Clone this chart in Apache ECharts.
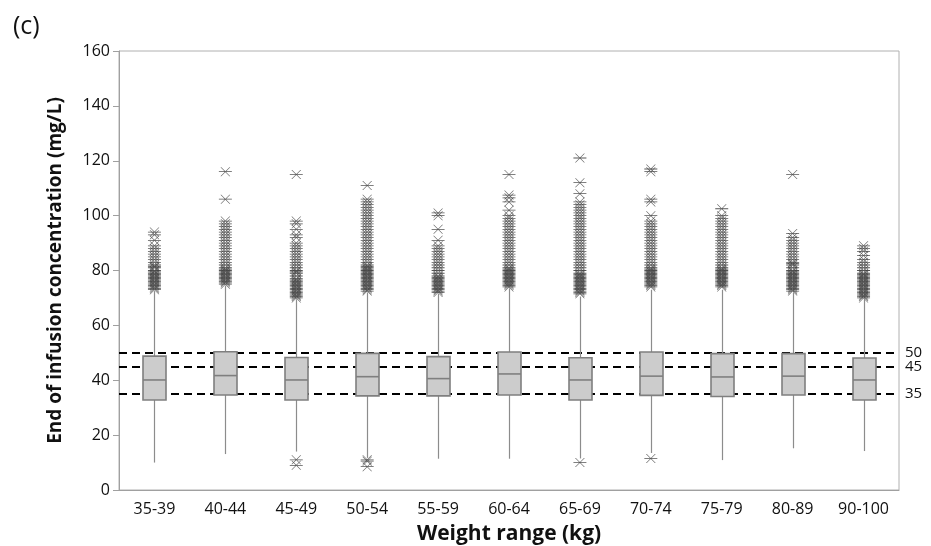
<!DOCTYPE html>
<html>
<head>
<meta charset="utf-8">
<script src="https://cdn.jsdelivr.net/npm/echarts@6/dist/echarts.min.js"></script>
<style>
  html, body { margin: 0; padding: 0; background: #fff; }
  #chart { width: 931px; height: 546px; }
</style>
</head>
<body>
<div id="chart"></div>
<script>
  // weight groups
  const categories = ['35-39', '40-44', '45-49', '50-54', '55-59', '60-64', '65-69', '70-74', '75-79', '80-89', '90-100'];

  // [low whisker, Q1, median, Q3, high whisker]
  const boxValues = [
    [10.0, 32.8, 40.1, 48.8, 72.5],
    [13.1, 34.6, 41.7, 50.4, 74.5],
    [14.0, 32.8, 40.1, 48.3, 69.5],
    [11.7, 34.3, 41.3, 49.8, 72.0],
    [11.4, 34.3, 40.6, 48.6, 71.5],
    [11.4, 34.6, 42.3, 50.3, 73.5],
    [11.5, 32.8, 40.1, 48.2, 70.5],
    [13.5, 34.5, 41.5, 50.3, 73.0],
    [10.9, 34.1, 41.2, 49.7, 73.0],
    [15.2, 34.6, 41.5, 49.7, 72.0],
    [14.2, 32.8, 40.1, 48.1, 69.5]
  ];

  // outliers per group
  const outliers = [
    [94, 93, 91, 89, 88, 87, 86, 85, 84, 83, 82, 81.5, 81, 80, 79.5, 79, 78.5, 78, 77.5, 77, 76.5, 76, 75.5, 75, 74.5, 74, 73.5, 73],
    [116, 106, 98, 97, 96, 95, 94, 93, 92, 91, 90, 89, 88, 87, 86, 85, 84, 83, 82, 81, 80.5, 80, 79.5, 79, 78.5, 78, 77.5, 77, 76.5, 76, 75.5, 75],
    [115, 98, 97, 95, 93, 92, 90, 89, 88, 87, 86, 85, 84, 83, 82, 81, 80, 79.5, 79, 78, 77, 76.5, 76, 75.5, 75, 74.5, 74, 73.5, 73, 72.5, 72, 71.5, 71, 70.5, 70, 11, 9],
    [111, 106, 105, 104, 103, 102, 101, 100, 99, 98, 97, 96, 95, 94, 93, 92, 91, 90, 89, 88, 87, 86, 85, 84, 83, 82, 81.5, 81, 80.5, 80, 79.5, 79, 78.5, 78, 77.5, 77, 76.5, 76, 75.5, 75, 74.5, 74, 73.5, 73, 72.5, 11, 10.5, 8.5],
    [101, 100, 95, 91, 89, 88, 87, 86, 85, 84, 83, 82, 81, 80, 79, 78, 77.5, 77, 76.5, 76, 75.5, 75, 74.5, 74, 73.5, 73, 72.5, 72],
    [115, 107.5, 106.5, 105, 102, 100, 99, 98, 97, 96, 95, 94, 93, 92, 91, 90, 89, 88, 87, 86, 85, 84, 83, 82, 81, 80.5, 80, 79.5, 79, 78.5, 78, 77.5, 77, 76.5, 76, 75.5, 75, 74.5, 74],
    [121, 112, 108, 105, 104, 103, 102, 101, 100, 99, 98, 97, 96, 95, 94, 93, 92, 91, 90, 89, 88, 87, 86, 85, 84, 83, 82, 81, 80, 79, 78.5, 78, 77.5, 77, 76.5, 76, 75.5, 75, 74.5, 74, 73.5, 73, 72.5, 72, 71.5, 10],
    [117, 116, 106, 105, 100, 98, 97, 96, 95, 94, 93, 92, 91, 90, 89, 88, 87, 86, 85, 84, 83, 82, 81, 80.5, 80, 79.5, 79, 78.5, 78, 77.5, 77, 76.5, 76, 75.5, 75, 74.5, 74, 11.5],
    [102.5, 100, 99, 98, 97, 96, 95, 94, 93, 92, 91, 90, 89, 88, 87, 86, 85, 84, 83, 82, 81, 80.5, 80, 79.5, 79, 78.5, 78, 77.5, 77, 76.5, 76, 75.5, 75, 74.5, 74],
    [115, 93.5, 92, 91, 90, 89, 88, 87, 86, 85, 84, 83, 82.5, 82, 81, 80, 79.5, 79, 78.5, 78, 77.5, 77, 76.5, 76, 75.5, 75, 74.5, 74, 73.5, 73, 72.5],
    [89, 88, 87, 85.5, 84, 83, 82, 81, 80, 79, 78.5, 78, 77.5, 77, 76.5, 76, 75.5, 75, 74.5, 74, 73.5, 73, 72.5, 72, 71.5, 71, 70.5, 70]
  ];

  // reference concentrations
  const refLines = [50, 45, 35];

  const yTicks = { min: 0, max: 160, interval: 20 };

  const chart = echarts.init(document.getElementById('chart'));

  // asterisk marker: horizontal bar + two diagonals
  const asterisk = 'path://M0,7.3L20,7.3L20,8.7L0,8.7Z M2.5,0L3.7,0L17.5,16L16.3,16Z M16.3,0L17.5,0L3.7,16L2.5,16Z';

  const scatterData = [];
  outliers.forEach((list, i) => {
    list.forEach(v => scatterData.push([i, v]));
  });

  const boxData = boxValues.map((b, i) => [i].concat(b));

  const font = '"Open Sans", "Noto Sans", sans-serif';

  // box without whisker caps (Minitab style)
  function renderBox(params, api) {
    const i = api.value(0);
    const lo = api.coord([i, api.value(1)]);
    const q1 = api.coord([i, api.value(2)]);
    const md = api.coord([i, api.value(3)]);
    const q3 = api.coord([i, api.value(4)]);
    const hi = api.coord([i, api.value(5)]);
    const w = 23;
    const x = Math.round(lo[0]) + 0.5;
    return {
      type: 'group',
      children: [
        { type: 'line', shape: { x1: x, y1: lo[1], x2: x, y2: q1[1] }, style: { stroke: '#8c8c8c', lineWidth: 1.2 } },
        { type: 'line', shape: { x1: x, y1: q3[1], x2: x, y2: hi[1] }, style: { stroke: '#8c8c8c', lineWidth: 1.2 } },
        { type: 'rect', shape: { x: x - w / 2, y: q3[1], width: w, height: q1[1] - q3[1] }, style: { fill: '#cccccc', stroke: '#7f7f7f', lineWidth: 1.6 } },
        { type: 'line', shape: { x1: x - w / 2, y1: md[1], x2: x + w / 2, y2: md[1] }, style: { stroke: '#7f7f7f', lineWidth: 1.6 } }
      ]
    };
  }

  const option = {
    backgroundColor: '#fff',
    animation: false,
    title: {
      text: '(c)',
      left: 8,
      top: 9,
      textStyle: { fontFamily: font, fontSize: 25, fontWeight: 'normal', color: '#111' }
    },
    grid: {
      left: 119,
      right: 32,
      top: 51,
      bottom: 56,
      outerBoundsMode: 'none',
      show: true,
      borderColor: '#b0b0b0',
      borderWidth: 1
    },
    xAxis: {
      type: 'category',
      data: categories,
      boundaryGap: true,
      name: 'Weight range (kg)',
      nameLocation: 'middle',
      nameGap: 34,
      nameTextStyle: { fontFamily: font, fontSize: 21, fontWeight: 'bold', color: '#111' },
      axisLine: { lineStyle: { color: '#a0a0a0' } },
      axisTick: { alignWithLabel: true, length: 5, lineStyle: { color: '#a0a0a0' } },
      axisLabel: { fontFamily: font, fontSize: 16, color: '#111', margin: 11 },
      splitLine: { show: false }
    },
    yAxis: {
      type: 'value',
      min: yTicks.min,
      max: yTicks.max,
      interval: yTicks.interval,
      name: 'End of infusion concentration (mg/L)',
      nameLocation: 'middle',
      nameGap: 54,
      nameTextStyle: { fontFamily: font, fontSize: 19, fontWeight: 'bold', color: '#111' },
      axisLine: { show: true, lineStyle: { color: '#a0a0a0' } },
      axisTick: { show: true, length: 6, lineStyle: { color: '#a0a0a0' } },
      axisLabel: { fontFamily: font, fontSize: 16, color: '#111', margin: 9 },
      splitLine: { show: false }
    },
    series: [
      {
        // holder for the dashed reference lines, drawn beneath the boxes
        type: 'line',
        data: [],
        z: 1,
        markLine: {
          silent: true,
          z: 1,
          symbol: 'none',
          lineStyle: { color: '#000', type: [8, 5], width: 2 },
          label: {
            position: 'end',
            distance: 6,
            fontFamily: font,
            fontSize: 15,
            color: '#111',
            formatter: p => String(p.value)
          },
          data: refLines.map(v => ({ yAxis: v }))
        }
      },
      {
        type: 'custom',
        renderItem: renderBox,
        data: boxData,
        encode: { x: 0, y: [1, 2, 3, 4, 5] },
        z: 3
      },
      {
        type: 'scatter',
        data: scatterData,
        symbol: asterisk,
        symbolSize: [13, 9],
        itemStyle: { color: '#444', opacity: 0.9 },
        z: 4
      }
    ]
  };

  chart.setOption(option);
</script>
</body>
</html>
